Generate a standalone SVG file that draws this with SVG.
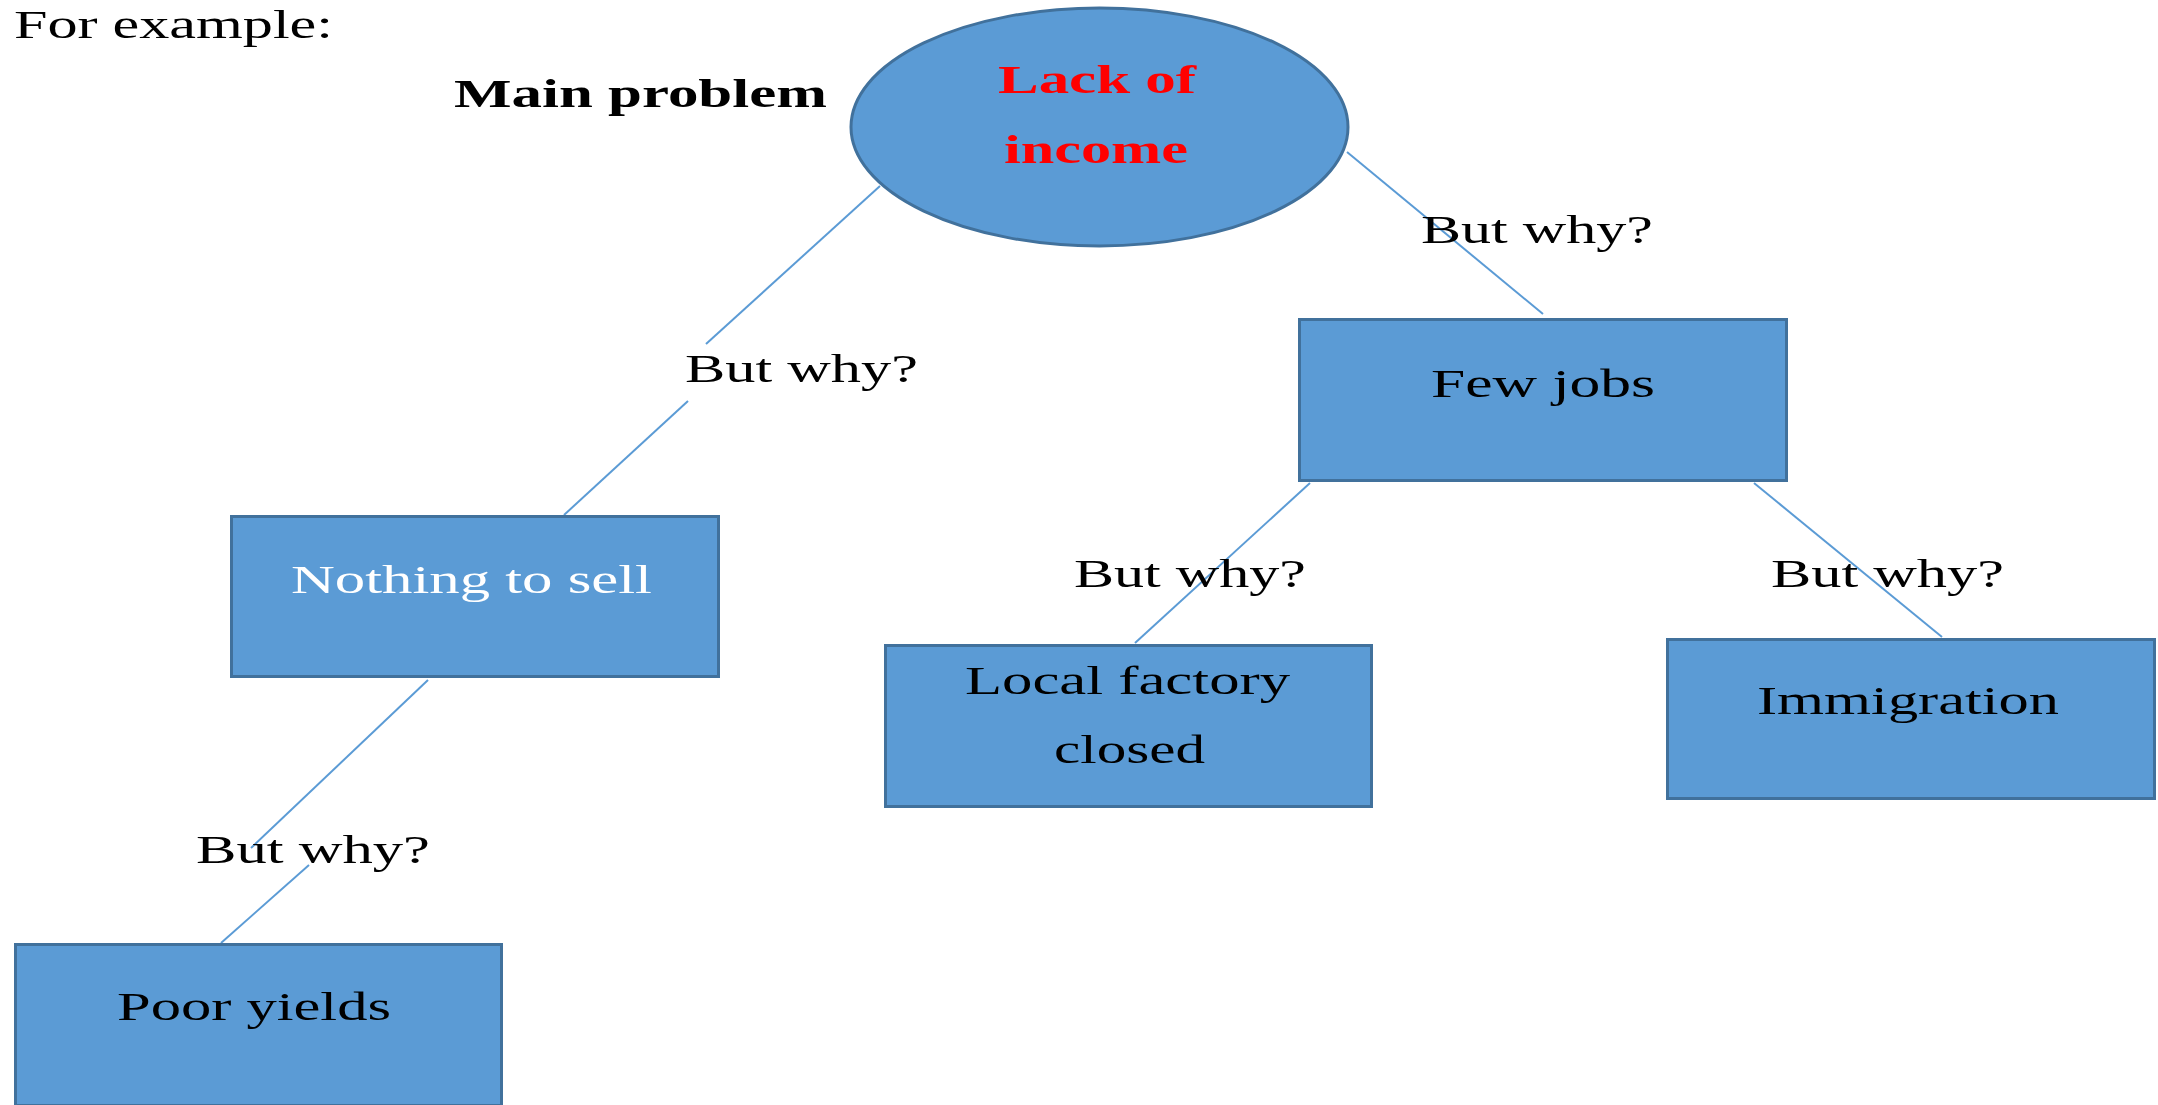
<svg xmlns="http://www.w3.org/2000/svg" width="2158" height="1105" viewBox="0 0 2158 1105">
  <style>
    .t { font-family: "Liberation Serif", "Times New Roman", serif; font-size: 40px; fill: #000; }
    .b { font-weight: bold; }
    .red { fill: #FF0000; }
    .white { fill: #FFFFFF; }
    .node { fill: #5B9BD5; stroke: #41719C; stroke-width: 3; }
    .conn { stroke: #5B9BD5; stroke-width: 2; fill: none; }
  </style>
  <rect width="2158" height="1105" fill="#fff"/>

  <text class="t" x="14" y="38" textLength="319" lengthAdjust="spacingAndGlyphs">For example:</text>
  <text class="t b" x="454" y="107" font-size="42" textLength="373" lengthAdjust="spacingAndGlyphs">Main problem</text>

  <g id="connectors">
    <line class="conn" x1="880" y1="186" x2="706" y2="344"/>
    <line class="conn" x1="688" y1="401" x2="564" y2="515"/>
    <line class="conn" x1="1347" y1="152" x2="1543" y2="314"/>
    <line class="conn" x1="1310" y1="483" x2="1135" y2="643"/>
    <line class="conn" x1="1754" y1="483" x2="1942" y2="637"/>
    <line class="conn" x1="428" y1="680" x2="251" y2="848"/>
    <line class="conn" x1="309" y1="865" x2="221" y2="943"/>
  </g>

  <g id="label-why-1"><text class="t" x="685" y="382" textLength="233" lengthAdjust="spacingAndGlyphs">But why?</text></g>
  <g id="label-why-2"><text class="t" x="1421" y="243" textLength="232" lengthAdjust="spacingAndGlyphs">But why?</text></g>
  <g id="label-why-3"><text class="t" x="1074" y="587" textLength="232" lengthAdjust="spacingAndGlyphs">But why?</text></g>
  <g id="label-why-4"><text class="t" x="1771" y="587" textLength="233" lengthAdjust="spacingAndGlyphs">But why?</text></g>
  <g id="label-why-5"><text class="t" x="196" y="863" textLength="234" lengthAdjust="spacingAndGlyphs">But why?</text></g>

  <g id="lack-of-income">
    <ellipse class="node" cx="1099.5" cy="127" rx="248.5" ry="119" stroke-width="2.5"/>
    <text class="t b red" x="998" y="93" textLength="198" lengthAdjust="spacingAndGlyphs">Lack of</text>
    <text class="t b red" x="1004" y="163" textLength="184" lengthAdjust="spacingAndGlyphs">income</text>
  </g>

  <g id="few-jobs">
    <rect class="node" x="1299.5" y="319.5" width="487" height="161"/>
    <text class="t" x="1431" y="397" textLength="224" lengthAdjust="spacingAndGlyphs">Few jobs</text>
  </g>

  <g id="nothing-to-sell">
    <rect class="node" x="231.5" y="516.5" width="487" height="160"/>
    <text class="t white" x="291" y="593" textLength="361" lengthAdjust="spacingAndGlyphs">Nothing to sell</text>
  </g>

  <g id="local-factory-closed">
    <rect class="node" x="885.5" y="645.5" width="486" height="161"/>
    <text class="t" x="965" y="694" textLength="325" lengthAdjust="spacingAndGlyphs">Local factory</text>
    <text class="t" x="1054" y="763" textLength="151" lengthAdjust="spacingAndGlyphs">closed</text>
  </g>

  <g id="immigration">
    <rect class="node" x="1667.5" y="639.5" width="487" height="159"/>
    <text class="t" x="1757" y="714" textLength="302" lengthAdjust="spacingAndGlyphs">Immigration</text>
  </g>

  <g id="poor-yields">
    <rect class="node" x="15.5" y="944.5" width="486" height="161"/>
    <text class="t" x="117" y="1020" textLength="274" lengthAdjust="spacingAndGlyphs">Poor yields</text>
  </g>
</svg>
